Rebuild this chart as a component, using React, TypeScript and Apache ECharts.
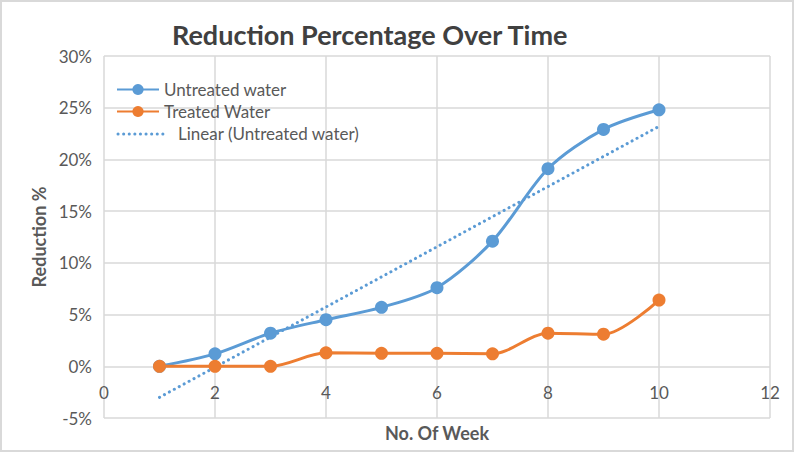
import React, { useEffect, useRef } from "react";
import * as echarts from "echarts";

const weeks = [1, 2, 3, 4, 5, 6, 7, 8, 9, 10];
const untreated = [0, 1.2, 3.2, 4.5, 5.7, 7.6, 12.1, 19.1, 22.9, 24.8];
const treated = [0, 0, 0, 1.3, 1.25, 1.25, 1.2, 3.2, 3.1, 6.4];
const trendX = [1, 10];
const trendY = [-3.0, 23.2];
const titleText = "Reduction Percentage Over Time";
const xName = "No. Of Week";
const yName = "Reduction %";
const seriesNames = ["Untreated water", "Treated Water", "Linear (Untreated water)"];

const FONT = "Lato";
const BLUE = "#5b9bd5";
const ORANGE = "#ed7d31";
const GRID = "#d9d9d9";
const TEXT = "#595959";

export default function App() {
  const ref = useRef<HTMLDivElement>(null);
  useEffect(() => {
    document.body.style.margin = "0";
    const chart = echarts.init(ref.current!, null, { renderer: "svg" });
    chart.setOption({
      animation: false,
      backgroundColor: "#ffffff",
      textStyle: { fontFamily: FONT },
      title: {
        text: titleText,
        left: 167,
        top: 16,
        textStyle: { fontFamily: FONT, fontSize: 27, fontWeight: "bold", color: "#404040" },
      },
      graphic: [
        {
          type: "rect",
          shape: { x: 1, y: 1, width: 792, height: 450 },
          style: { fill: "none", stroke: GRID, lineWidth: 2 },
          silent: true,
        },
        {
          type: "line",
          shape: { x1: 118, y1: 134, x2: 166, y2: 134 },
          style: { stroke: BLUE, lineWidth: 3, lineDash: [0.1, 5.5], lineCap: "round" },
          silent: true,
          z: 10,
        },
      ],
      legend: {
        orient: "vertical",
        left: 111,
        top: 76,
        itemWidth: 42,
        itemHeight: 14,
        itemGap: 5,
        textStyle: { fontFamily: FONT, fontSize: 17, color: TEXT },
        data: [
          { name: seriesNames[0] },
          { name: seriesNames[1] },
          { name: seriesNames[2], icon: "none", textStyle: { padding: [0, 0, 0, 14] } },
        ],
      },
      grid: [
        { left: 104, right: 24, top: 56, bottom: 34, containLabel: false, outerBoundsMode: "none" },
        { left: 104, right: 24, top: 56, bottom: 86, containLabel: false, outerBoundsMode: "none" },
      ],
      xAxis: [
        {
          type: "value",
          gridIndex: 0,
          min: 0,
          max: 12,
          interval: 2,
          name: xName,
          nameLocation: "middle",
          nameGap: 6,
          nameTextStyle: { fontFamily: FONT, fontSize: 18, fontWeight: "bold", color: TEXT },
          axisLine: { show: false },
          axisTick: { show: false },
          axisLabel: { show: false },
          splitLine: { show: true, lineStyle: { color: GRID, width: 1.5 } },
        },
        {
          type: "value",
          gridIndex: 1,
          min: 0,
          max: 12,
          interval: 2,
          axisLine: { show: false },
          axisTick: { show: false },
          axisLabel: { fontFamily: FONT, fontSize: 17, color: TEXT, margin: 18 },
          splitLine: { show: false },
        },
      ],
      yAxis: [
        {
          type: "value",
          gridIndex: 0,
          min: -5,
          max: 30,
          interval: 5,
          name: yName,
          nameLocation: "middle",
          nameGap: 55,
          nameRotate: 90,
          nameTextStyle: { fontFamily: FONT, fontSize: 18, fontWeight: "bold", color: TEXT },
          axisLine: { show: false },
          axisTick: { show: false },
          axisLabel: { fontFamily: FONT, fontSize: 17, color: TEXT, margin: 12, formatter: "{value}%" },
          splitLine: { show: true, lineStyle: { color: GRID, width: 1.5 } },
        },
        {
          type: "value",
          gridIndex: 1,
          min: 0,
          max: 1,
          show: false,
        },
      ],
      series: [
        {
          name: seriesNames[0],
          type: "line",
          data: weeks.map((w, i) => [w, untreated[i]]),
          smooth: 0.3,
          symbol: "circle",
          symbolSize: 13,
          lineStyle: { color: BLUE, width: 3 },
          itemStyle: { color: BLUE },
          z: 3,
        },
        {
          name: seriesNames[1],
          type: "line",
          data: weeks.map((w, i) => [w, treated[i]]),
          smooth: 0.3,
          symbol: "circle",
          symbolSize: 13,
          lineStyle: { color: ORANGE, width: 3 },
          itemStyle: { color: ORANGE },
          z: 3,
        },
        {
          name: seriesNames[2],
          type: "line",
          data: trendX.map((x, i) => [x, trendY[i]]),
          symbol: "none",
          lineStyle: { color: BLUE, width: 3, type: [0.1, 5.5], cap: "round" },
          itemStyle: { color: BLUE },
          z: 2,
        },
      ],
    });
    return () => chart.dispose();
  }, []);
  return <div ref={ref} style={{ width: 794, height: 452 }} />;
}
